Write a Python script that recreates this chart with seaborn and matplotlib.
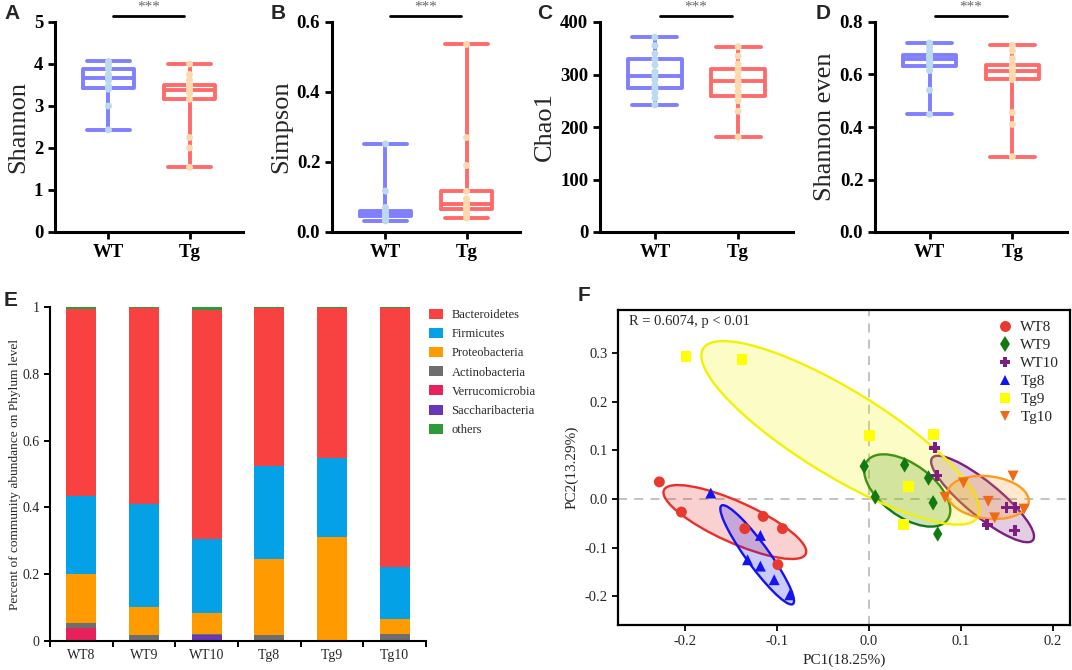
import numpy as np
import pandas as pd
import matplotlib
matplotlib.use('Agg')
import matplotlib.pyplot as plt
from matplotlib.patches import Ellipse, Patch
from matplotlib.colors import to_rgba
from matplotlib.ticker import FormatStrFormatter, FuncFormatter
import seaborn as sns

shannon_wt = [2.43, 3.00, 3.40, 3.44, 3.48, 3.60, 3.67, 3.70, 3.75, 3.89, 3.92, 4.00, 4.06]
shannon_tg = [1.54, 2.00, 2.25, 3.16, 3.30, 3.35, 3.38, 3.45, 3.50, 3.51, 3.62, 3.75, 4.00]
simpson_wt = [0.032, 0.040, 0.045, 0.047, 0.050, 0.052, 0.054, 0.056, 0.058, 0.061, 0.070, 0.117, 0.252]
simpson_tg = [0.040, 0.050, 0.060, 0.066, 0.070, 0.075, 0.079, 0.085, 0.095, 0.116, 0.190, 0.270, 0.536]
chao1_wt = [242, 255, 265, 274, 280, 290, 298, 305, 318, 329, 340, 355, 371]
chao1_tg = [181, 230, 250, 259, 268, 278, 287, 295, 305, 310, 320, 335, 353]
even_wt = [0.448, 0.540, 0.615, 0.632, 0.640, 0.650, 0.658, 0.662, 0.670, 0.676, 0.690, 0.705, 0.720]
even_tg = [0.287, 0.410, 0.455, 0.581, 0.590, 0.600, 0.614, 0.620, 0.630, 0.638, 0.660, 0.690, 0.711]

# ---- phylum composition ----
samples = ['WT8', 'WT9', 'WT10', 'Tg8', 'Tg9', 'Tg10']
saccharibacteria = [0.000, 0.000, 0.018, 0.000, 0.000, 0.000]
verrucomicrobia = [0.040, 0.000, 0.000, 0.000, 0.000, 0.000]
actinobacteria = [0.013, 0.018, 0.004, 0.018, 0.003, 0.021]
proteobacteria = [0.147, 0.085, 0.063, 0.227, 0.308, 0.044]
firmicutes = [0.233, 0.307, 0.221, 0.279, 0.237, 0.157]
bacteroidetes = [0.562, 0.587, 0.686, 0.472, 0.449, 0.775]
others = [0.005, 0.003, 0.008, 0.004, 0.003, 0.003]

# ---- PCoA coordinates ----
wt8_x = [-0.228, -0.204, -0.135, -0.115, -0.094, -0.099]
wt8_y = [0.035, -0.027, -0.061, -0.036, -0.061, -0.135]
wt9_x = [-0.005, 0.007, 0.039, 0.065, 0.070, 0.075]
wt9_y = [0.067, 0.004, 0.070, 0.043, -0.008, -0.072]
wt10_x = [0.072, 0.074, 0.129, 0.150, 0.159, 0.159]
wt10_y = [0.105, 0.048, -0.053, -0.018, -0.018, -0.065]
tg8_x = [-0.172, -0.118, -0.132, -0.118, -0.103, -0.086]
tg8_y = [0.012, -0.075, -0.125, -0.138, -0.166, -0.197]
tg9_x = [-0.199, -0.138, 0.001, 0.070, 0.043, 0.038]
tg9_y = [0.292, 0.286, 0.131, 0.132, 0.026, -0.053]
tg10_x = [0.157, 0.083, 0.103, 0.130, 0.137, 0.169]
tg10_y = [0.047, 0.003, 0.033, -0.005, -0.039, -0.021]

BOX_WT, BOX_TG = '#7F7FFF', '#FF6B6B'
PT_WT, PT_TG = '#BCD9F2', '#FFD9AE'

PHYLUM_COLORS = {
    'Bacteroidetes': '#F84141',
    'Firmicutes': '#05A1E6',
    'Proteobacteria': '#FF9B00',
    'Actinobacteria': '#6E6E6E',
    'Verrucomicrobia': '#E6215C',
    'Saccharibacteria': '#6A36BA',
    'others': '#2E9A3A',
}

GROUP_COLORS = {'WT8': '#E8392E', 'WT9': '#117A11', 'WT10': '#7E1E80',
                'Tg8': '#1414F0', 'Tg9': '#FFFF00', 'Tg10': '#F06A15'}
ELLIPSE_COLORS = {'WT8': '#E8302A', 'WT9': '#117A11', 'WT10': '#7E1E80',
                  'Tg8': '#1414F0', 'Tg9': '#F2F200', 'Tg10': '#FF9A1F'}
GROUP_MARKERS = {'WT8': 'o', 'WT9': 'd', 'WT10': 'P', 'Tg8': '^', 'Tg9': 's', 'Tg10': 'v'}
N_STD = 1.37


def draw_alpha_box(ax, wt_vals, tg_vals, ylabel, ymax, step, decimals):
    df = pd.DataFrame({'group': ['WT'] * len(wt_vals) + ['Tg'] * len(tg_vals),
                       'value': wt_vals + tg_vals})
    sns.boxplot(data=df, x='group', y='value', hue='group', palette=[BOX_WT, BOX_TG],
                fill=False, whis=(0, 100), width=0.64, linewidth=2.8,
                showfliers=False, legend=False, ax=ax)
    # caps as wide as GraphPad draws them
    for line in ax.lines:
        xd = np.asarray(line.get_xdata(), dtype=float)
        yd = np.asarray(line.get_ydata(), dtype=float)
        if len(xd) == 2 and yd[0] == yd[1] and (xd[1] - xd[0]) < 0.5:
            c = xd.mean()
            line.set_xdata([c - 0.27, c + 0.27])
    sns.stripplot(data=df, x='group', y='value', hue='group', palette=[PT_WT, PT_TG],
                  jitter=False, size=5, linewidth=0, legend=False, ax=ax, zorder=4)

    ax.set_xlim(-0.66, 1.66)
    ax.set_ylim(0, ymax)
    ax.set_yticks(np.arange(0, ymax + step / 2, step))
    ax.yaxis.set_major_formatter(FormatStrFormatter(f'%.{decimals}f'))
    ax.set_xlabel('')
    ax.set_ylabel(ylabel, fontsize=19, labelpad=3)
    sns.despine(ax=ax)
    for s in ['left', 'bottom']:
        ax.spines[s].set_linewidth(2.2)
        ax.spines[s].set_color('black')
    ax.tick_params(width=2, length=5, labelsize=13.5, colors='black')
    for lab in ax.get_xticklabels() + ax.get_yticklabels():
        lab.set_fontweight('bold')

    # significance bar
    trans = ax.get_xaxis_transform()
    ax.plot([0.06, 0.93], [1.03, 1.03], transform=trans, color='black', lw=2, clip_on=False)
    ax.text(0.495, 1.04, '***', transform=trans, ha='center', va='bottom',
            fontsize=11, color='#666666')


def draw_composition(ax):
    stack = [('Saccharibacteria', saccharibacteria), ('Verrucomicrobia', verrucomicrobia),
             ('Actinobacteria', actinobacteria), ('Proteobacteria', proteobacteria),
             ('Firmicutes', firmicutes), ('Bacteroidetes', bacteroidetes), ('others', others)]
    cum = np.zeros(len(samples))
    tops = []
    for name, vals in stack:
        cum = cum + np.array(vals)
        tops.append((name, cum.copy()))
    # draw the tallest stack first, then cover it with the lower ones
    for name, top in reversed(tops):
        sns.barplot(x=samples, y=top, color=PHYLUM_COLORS[name], width=0.48,
                    saturation=1, errorbar=None, linewidth=0, ax=ax)

    ax.set_xlim(-0.5, 5.5)
    ax.set_ylim(0, 1)
    ax.set_yticks([0, 0.2, 0.4, 0.6, 0.8, 1.0])
    ax.yaxis.set_major_formatter(FuncFormatter(lambda v, p: f'{v:g}'))
    ax.set_xticks(np.arange(-0.5, 6, 1), minor=True)
    ax.tick_params(axis='x', which='major', length=0, pad=6, labelsize=10)
    ax.tick_params(axis='x', which='minor', length=4, width=1.4, color='black')
    ax.tick_params(axis='y', length=4, width=1.4, labelsize=10, color='black')
    ax.set_ylabel('Percent of community abundance on Phylum level', fontsize=9.6, labelpad=1)
    sns.despine(ax=ax)
    for s in ['left', 'bottom']:
        ax.spines[s].set_linewidth(1.5)
        ax.spines[s].set_color('black')

    legend_order = ['Bacteroidetes', 'Firmicutes', 'Proteobacteria', 'Actinobacteria',
                    'Verrucomicrobia', 'Saccharibacteria', 'others']
    handles = [Patch(facecolor=PHYLUM_COLORS[n], edgecolor='none') for n in legend_order]
    ax.legend(handles, legend_order, loc='upper left', bbox_to_anchor=(0.995, 1.01),
              frameon=False, fontsize=9, handlelength=1.1, handleheight=0.85,
              labelspacing=0.55, handletextpad=0.7, borderaxespad=0)


def draw_pcoa(ax):
    coords = {'WT8': (wt8_x, wt8_y), 'WT9': (wt9_x, wt9_y), 'WT10': (wt10_x, wt10_y),
              'Tg8': (tg8_x, tg8_y), 'Tg9': (tg9_x, tg9_y), 'Tg10': (tg10_x, tg10_y)}
    rows = []
    for g, (gx, gy) in coords.items():
        for xv, yv in zip(gx, gy):
            rows.append({'group': g, 'PC1': xv, 'PC2': yv})
    df = pd.DataFrame(rows)

    ax.axvline(0, color='#BDBDBD', ls=(0, (5, 4)), lw=1.3, zorder=0)
    ax.axhline(0, color='#BDBDBD', ls=(0, (5, 4)), lw=1.3, zorder=0)

    for g, (gx, gy) in coords.items():
        vals, vecs = np.linalg.eigh(np.cov(gx, gy))
        order = vals.argsort()[::-1]
        vals, vecs = vals[order], vecs[:, order]
        angle = np.degrees(np.arctan2(vecs[1, 0], vecs[0, 0]))
        w, h = 2 * N_STD * np.sqrt(vals)
        c = ELLIPSE_COLORS[g]
        ax.add_patch(Ellipse((np.mean(gx), np.mean(gy)), w, h, angle=angle,
                             facecolor=to_rgba(c, 0.22), edgecolor=c, lw=1.7, zorder=1))

    sns.scatterplot(data=df, x='PC1', y='PC2', hue='group', style='group',
                    palette=GROUP_COLORS, markers=GROUP_MARKERS, s=62, linewidth=0,
                    ax=ax, zorder=3)
    sns.move_legend(ax, 'upper right', title=None, frameon=False, fontsize=11,
                    handletextpad=0.0, labelspacing=0.28, borderaxespad=0.3)

    ax.set_xlim(-0.273, 0.219)
    ax.set_ylim(-0.259, 0.388)
    ax.set_xticks([-0.2, -0.1, 0.0, 0.1, 0.2])
    ax.set_yticks([-0.2, -0.1, 0.0, 0.1, 0.2, 0.3])
    ax.xaxis.set_major_formatter(FormatStrFormatter('%.1f'))
    ax.yaxis.set_major_formatter(FormatStrFormatter('%.1f'))
    ax.tick_params(length=4, width=1.3, labelsize=10.5, color='black')
    ax.set_xlabel('PC1(18.25%)', fontsize=11)
    ax.set_ylabel('PC2(13.29%)', fontsize=11)
    for s in ax.spines.values():
        s.set_linewidth(1.6)
        s.set_color('black')
    ax.text(0.024, 0.962, 'R = 0.6074, p < 0.01', transform=ax.transAxes,
            ha='left', va='center', fontsize=10.5)


def main():
    sns.set_theme(style='ticks')
    plt.rcParams['font.family'] = ['Liberation Serif', 'DejaVu Serif']
    plt.rcParams['axes.unicode_minus'] = False

    W, H = 1072, 670
    fig = plt.figure(figsize=(W / 100, H / 100), dpi=100)

    def px_axes(left, top, right, bottom):
        return fig.add_axes([left / W, 1 - bottom / H, (right - left) / W, (bottom - top) / H])

    ax_a = px_axes(55, 22, 243, 232)
    ax_b = px_axes(332, 22, 520, 232)
    ax_c = px_axes(600, 22, 793, 232)
    ax_d = px_axes(875, 22, 1067, 232)
    ax_e = px_axes(50, 307, 426, 641)
    ax_f = px_axes(618, 310, 1070, 625)

    draw_alpha_box(ax_a, shannon_wt, shannon_tg, 'Shannon', 5, 1, 0)
    draw_alpha_box(ax_b, simpson_wt, simpson_tg, 'Simpson', 0.6, 0.2, 1)
    draw_alpha_box(ax_c, chao1_wt, chao1_tg, 'Chao1', 400, 100, 0)
    draw_alpha_box(ax_d, even_wt, even_tg, 'Shannon even', 0.8, 0.2, 1)
    draw_composition(ax_e)
    draw_pcoa(ax_f)

    letter_kw = dict(fontsize=15, fontweight='bold', family='Liberation Sans', va='top', ha='left')
    for letter, x, y in [('A', 4, 4), ('B', 271, 4), ('C', 537, 4), ('D', 816, 4),
                         ('E', 4, 291), ('F', 578, 286)]:
        fig.text(x / W, 1 - y / H, letter, **letter_kw)

    fig.savefig('out.png', dpi=100)


if __name__ == "__main__":
    main()
